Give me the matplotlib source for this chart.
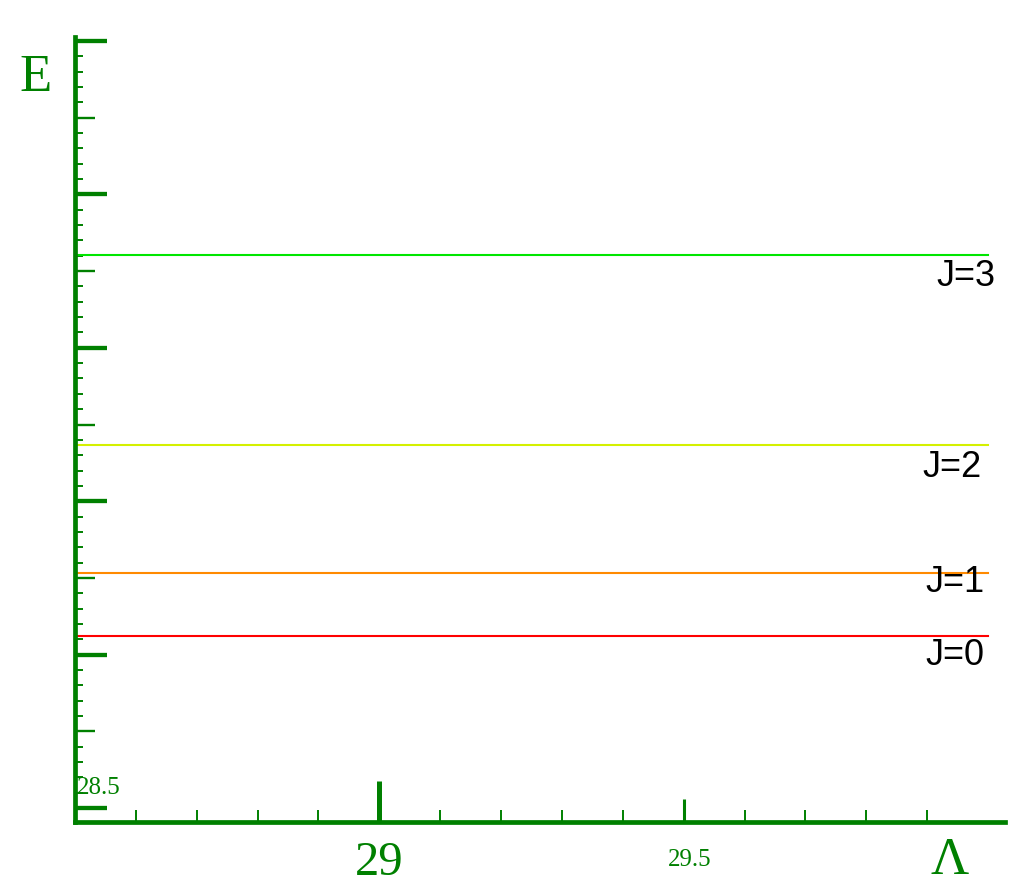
import numpy as np
import matplotlib
matplotlib.use("Agg")
import matplotlib.pyplot as plt

# =====================================================
# Rotational levels E(J) vs Lambda
# =====================================================
J_levels = [0, 1, 2, 3]
E_levels = [1.119, 1.534, 2.368, 3.605]
level_colors = ["#ff0000", "#ff8a00", "#d4f000", "#00e600"]
lambda_range = [28.5, 30.0]

# where the "J=.." labels sit (data coords, right aligned)
label_x = [29.995, 29.995, 29.99, 30.013]
label_y = [0.997, 1.47, 2.223, 3.468]

axis_green = "#008000"

fig = plt.figure(figsize=(10.24, 8.94), dpi=100)
ax = fig.add_axes([75 / 1024, 72 / 894, 930 / 1024, 785 / 894])

for J, E, c in zip(J_levels, E_levels, level_colors):
    ax.plot(lambda_range, [E, E], color=c, lw=1.5, zorder=2)

for J, lx, ly in zip(J_levels, label_x, label_y):
    ax.text(lx, ly, f"J={J}", ha="right", va="center", fontsize=26,
            family="Liberation Sans", color="black")

ax.set_xlim(28.5, 30.028)
ax.set_ylim(-0.091, 5.026)

# spines
for s in ["top", "right"]:
    ax.spines[s].set_visible(False)
for s in ["left", "bottom"]:
    ax.spines[s].set_color(axis_green)
    ax.spines[s].set_linewidth(3.4)
    ax.spines[s].set_zorder(3)

# ticks: three levels each, sized tick by tick
yt = np.round(np.arange(51) * 0.1, 1)
xt = np.round(28.5 + np.arange(1, 15) * 0.1, 1)
ax.set_yticks(yt)
ax.set_xticks(xt)
ax.tick_params(direction="in", colors=axis_green, labelleft=False,
               labelbottom=False)

for i, t in enumerate(ax.yaxis.get_major_ticks()):
    if i % 10 == 0:
        L, w = 23, 3.1
    elif i % 5 == 0:
        L, w = 14.4, 1.7
    else:
        L, w = 5.8, 1.4
    t.tick1line.set_markersize(L)
    t.tick1line.set_markeredgewidth(w)

for i, t in enumerate(ax.xaxis.get_major_ticks()):
    if abs(xt[i] - 29.0) < 1e-6:
        L, w = 29.5, 3.6
    elif abs(xt[i] - 29.5) < 1e-6:
        L, w = 16.5, 2.2
    else:
        L, w = 8.6, 1.4
    t.tick1line.set_markersize(L)
    t.tick1line.set_markeredgewidth(w)

# axis numbers and names
xtr = ax.get_xaxis_transform()
ax.text(29.0, -0.052, "29", transform=xtr, ha="center", va="center",
        fontsize=35, family="Liberation Serif", color=axis_green)
ax.text(29.51, -0.048, "29.5", transform=xtr, ha="center", va="center",
        fontsize=18, family="Liberation Serif", color=axis_green)
ax.text(28.503, 0.13, "28.5", ha="left", va="center",
        fontsize=18, family="Liberation Serif", color=axis_green)

fig.text(36 / 1024, 1 - 78 / 894, "E", ha="center", va="center",
         fontsize=38, family="Liberation Serif", color=axis_green)
fig.text(950 / 1024, 1 - 861 / 894, "Λ", ha="center", va="center",
         fontsize=38, family="Liberation Serif", color=axis_green)

fig.savefig("out.png", dpi=100)
